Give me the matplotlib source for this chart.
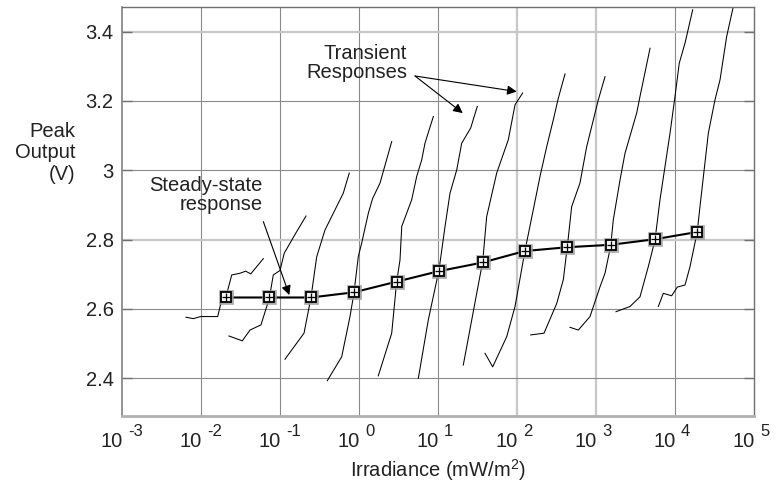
import numpy as np
import matplotlib
matplotlib.use("Agg")
import matplotlib.pyplot as plt
import matplotlib.transforms as mtransforms

plt.rcParams['font.family'] = ['Liberation Sans', 'DejaVu Sans']
plt.rcParams['mathtext.fontset'] = 'custom'
plt.rcParams['mathtext.rm'] = 'Liberation Sans'
plt.rcParams['mathtext.it'] = 'Liberation Sans'

# ---- data (log10 irradiance in mW/m^2, peak output in V) ----
steady_logx = [-1.687, -1.135, -0.608, -0.063, 0.481, 1.013, 1.566, 2.097, 2.637, 3.186, 3.743, 4.282]
steady_v = [2.633, 2.633, 2.633, 2.648, 2.679, 2.709, 2.734, 2.767, 2.778, 2.785, 2.801, 2.822]

t1_logx = [-2.190, -2.097, -2.004, -1.789, -1.738, -1.684, -1.611, -1.506, -1.434, -1.371, -1.211]
t1_v = [2.576, 2.572, 2.578, 2.578, 2.626, 2.635, 2.698, 2.703, 2.709, 2.701, 2.745]
t2_logx = [-1.646, -1.477, -1.380, -1.241, -1.135, -1.085, -1.000, -0.946, -0.789, -0.671]
t2_v = [2.522, 2.508, 2.539, 2.554, 2.631, 2.698, 2.711, 2.761, 2.823, 2.868]
t3_logx = [-0.937, -0.696, -0.608, -0.535, -0.430, -0.199, -0.123]
t3_v = [2.455, 2.530, 2.633, 2.751, 2.828, 2.934, 2.992]
t4_logx = [-0.401, -0.219, -0.114, -0.063, -0.009, 0.034, 0.118, 0.173, 0.266, 0.414]
t4_v = [2.393, 2.462, 2.578, 2.647, 2.751, 2.790, 2.876, 2.919, 2.963, 3.083]
t5_logx = [0.244, 0.414, 0.477, 0.519, 0.541, 0.667, 0.730, 0.794, 0.835, 0.941]
t5_v = [2.407, 2.530, 2.679, 2.741, 2.838, 2.915, 2.982, 3.030, 3.078, 3.155]
t6_logx = [0.751, 0.877, 1.013, 1.089, 1.152, 1.237, 1.300, 1.414, 1.497]
t6_v = [2.400, 2.568, 2.713, 2.838, 2.934, 3.001, 3.078, 3.122, 3.184]
t7_logx = [1.320, 1.490, 1.566, 1.616, 1.743, 1.890, 1.975, 2.072]
t7_v = [2.438, 2.645, 2.737, 2.866, 2.992, 3.088, 3.189, 3.223]
t8_logx = [1.595, 1.692, 1.870, 1.975, 2.101, 2.206, 2.291, 2.376, 2.459, 2.523, 2.608]
t8_v = [2.472, 2.433, 2.520, 2.607, 2.768, 2.886, 2.982, 3.068, 3.145, 3.208, 3.278]
t9_logx = [2.173, 2.342, 2.503, 2.586, 2.637, 2.692, 2.797, 2.882, 3.029, 3.114]
t9_v = [2.525, 2.530, 2.616, 2.684, 2.780, 2.895, 2.963, 3.068, 3.203, 3.270]
t10_logx = [2.671, 2.776, 2.924, 3.051, 3.114, 3.186, 3.219, 3.304, 3.367, 3.515, 3.557, 3.684]
t10_v = [2.547, 2.539, 2.578, 2.664, 2.703, 2.782, 2.857, 2.972, 3.049, 3.165, 3.213, 3.352]
t11_logx = [3.253, 3.430, 3.557, 3.662, 3.747, 3.810, 3.937, 4.000, 4.054, 4.127, 4.224]
t11_v = [2.592, 2.607, 2.635, 2.722, 2.799, 2.915, 3.107, 3.213, 3.309, 3.367, 3.463]
t12_logx = [3.789, 3.852, 3.958, 4.029, 4.127, 4.190, 4.282, 4.316, 4.422, 4.506, 4.570, 4.654, 4.738]
t12_v = [2.607, 2.645, 2.638, 2.663, 2.669, 2.722, 2.823, 2.895, 3.107, 3.203, 3.261, 3.386, 3.472]

transients = [(t1_logx, t1_v), (t2_logx, t2_v), (t3_logx, t3_v), (t4_logx, t4_v),
              (t5_logx, t5_v), (t6_logx, t6_v), (t7_logx, t7_v), (t8_logx, t8_v),
              (t9_logx, t9_v), (t10_logx, t10_v), (t11_logx, t11_v), (t12_logx, t12_v)]

x_decades = [-3, -2, -1, 0, 1, 2, 3, 4, 5]
y_ticks = [2.4, 2.6, 2.8, 3.0, 3.2, 3.4]
y_ticklabels = ['2.4', '2.6', '2.8', '3', '3.2', '3.4']

# ---- figure ----
W, H = 784, 487
fig = plt.figure(figsize=(W / 100, H / 100), dpi=100)
ax = fig.add_axes([122 / W, 1 - 415.7 / H, 632 / W, 408.7 / H])
ax.set_xscale('log')
ax.set_xlim(10.0 ** x_decades[0], 10.0 ** x_decades[-1])
ax.set_ylim(2.292, 3.471)

# grid (some lines lighter, as in the scan)
light_x = [2, 3]
light_y = [2.8, 3.4]
for d in x_decades[1:-1]:
    if d in light_x:
        ax.axvline(10.0 ** d, color='#c8c8c8', lw=1.6, zorder=0)
    else:
        ax.axvline(10.0 ** d, color='#8a8a8a', lw=0.8, zorder=0)
for yv in y_ticks:
    if yv in light_y:
        ax.axhline(yv, color='#c8c8c8', lw=1.6, zorder=0)
    else:
        ax.axhline(yv, color='#8a8a8a', lw=0.8, zorder=0)

# transient responses
for lx, v in transients:
    ax.plot(10.0 ** np.array(lx), v, color='black', lw=0.75, zorder=2)

# steady-state response
sx = 10.0 ** np.array(steady_logx)
ax.plot(sx, steady_v, color='black', lw=1.5, zorder=3)
ax.plot(sx, steady_v, ls='none', marker='s', ms=9, mfc='#dddddd', mec='#9a9a9a', mew=2.0, alpha=0.8, zorder=4)
ax.plot(sx, steady_v, ls='none', marker='s', ms=6.5, mfc='#f4f4f4', mec='black', mew=1.3, zorder=5)
ax.plot(sx, steady_v, ls='none', marker='+', ms=6, mec='black', mew=0.9, zorder=6)

# spines
for s in ['top', 'right']:
    ax.spines[s].set_color('#707070')
    ax.spines[s].set_linewidth(1.0)
ax.spines['left'].set_color('#808080')
ax.spines['left'].set_linewidth(1.2)
ax.spines['bottom'].set_color('#b0b0b0')
ax.spines['bottom'].set_linewidth(2.0)

# ticks
ax.set_yticks(y_ticks)
ax.set_yticklabels(y_ticklabels, fontsize=14.5, color='#222222')
ax.tick_params(axis='y', direction='in', length=7, width=1.0, color='#707070', right=True, pad=6)
ax.set_xticks([10.0 ** d for d in x_decades])
ax.set_xticklabels([])
ax.xaxis.set_minor_locator(matplotlib.ticker.NullLocator())
ax.tick_params(axis='x', length=0)

trans = mtransforms.blended_transform_factory(ax.transData, ax.transAxes)
for d in x_decades:
    ax.annotate('10', xy=(10.0 ** d, 0), xycoords=trans, xytext=(1, -16),
                textcoords='offset pixels', ha='right', va='top', fontsize=14.5, color='#222222',
                annotation_clip=False)
    ax.annotate(str(d), xy=(10.0 ** d, 0), xycoords=trans, xytext=(6, -8),
                textcoords='offset pixels', ha='left', va='top', fontsize=12, color='#222222',
                annotation_clip=False)

# axis labels
fig.text(75 / W, 1 - 153 / H, 'Peak\nOutput\n(V)', ha='right', va='center', multialignment='right',
         fontsize=14.5, color='#222222', linespacing=1.15)
fig.text(438 / W, 1 - 470 / H, 'Irradiance (mW/m$^2$)', ha='center', va='center', fontsize=14.5,
         color='#222222')

# annotations
ax.text(10 ** -1.215, 2.930, 'Steady-state\nresponse', ha='right', va='center', multialignment='right',
        fontsize=14.5, color='#222222', linespacing=1.0)
ax.annotate('', xy=(10 ** -0.882, 2.640), xytext=(10 ** -1.211, 2.852),
            arrowprops=dict(arrowstyle='-|>', color='black', lw=0.8, mutation_scale=14, shrinkA=0, shrinkB=0))

ax.text(10 ** 0.608, 3.310, 'Transient\nResponses', ha='right', va='center', multialignment='right',
        fontsize=14.5, color='#222222', linespacing=1.0)
for ex, ey in [(1.996, 3.227), (1.313, 3.165)]:
    ax.annotate('', xy=(10 ** ex, ey), xytext=(10 ** 0.709, 3.272),
                arrowprops=dict(arrowstyle='-|>', color='black', lw=0.8, mutation_scale=14, shrinkA=0, shrinkB=0))

fig.savefig('out.png', dpi=100)
